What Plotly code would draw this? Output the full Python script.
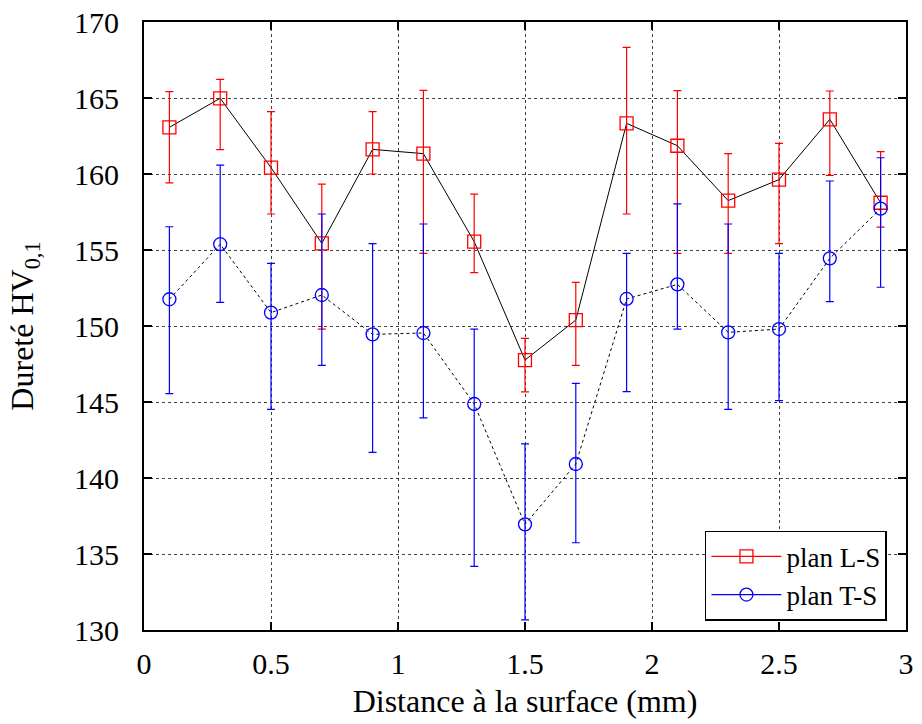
import plotly.graph_objects as go

distance = [0.1, 0.3, 0.5, 0.7, 0.9, 1.1, 1.3, 1.5, 1.7, 1.9, 2.1, 2.3, 2.5, 2.7, 2.9]

ls_mean = [163.07, 164.98, 160.42, 155.44, 161.62, 161.34, 155.55, 147.76, 150.39, 163.33, 161.86, 158.25, 159.63, 163.60, 158.11]
ls_high = [165.42, 166.23, 164.10, 159.34, 164.10, 165.50, 158.68, 149.19, 152.87, 168.33, 165.48, 161.34, 162.02, 165.46, 161.47]
ls_low = [159.41, 161.60, 157.37, 149.80, 160.00, 154.78, 153.51, 145.66, 147.41, 157.37, 154.78, 154.78, 155.42, 159.91, 156.51]

ts_mean = [151.76, 155.38, 150.88, 152.04, 149.45, 149.54, 144.87, 136.95, 140.92, 151.78, 152.74, 149.58, 149.80, 154.45, 157.72]
ts_high = [156.53, 160.59, 154.12, 157.37, 155.42, 156.71, 149.80, 142.24, 146.23, 154.78, 158.03, 156.71, 154.78, 159.54, 161.07]
ts_low = [145.55, 151.56, 144.52, 147.41, 141.69, 143.95, 134.19, 130.66, 135.74, 145.68, 149.80, 144.52, 145.09, 151.60, 152.55]

x_ticks = [0, 0.5, 1, 1.5, 2, 2.5, 3]
x_ticklabels = ["0", "0.5", "1", "1.5", "2", "2.5", "3"]
y_ticks = [130, 135, 140, 145, 150, 155, 160, 165, 170]

series_names = ["plan L-S", "plan T-S"]

RED = "rgb(255,0,0)"
BLUE = "rgb(0,0,255)"
FONT = "Liberation Serif"
FS = 30

fig = go.Figure()

def add_series(mean, high, low, color, symbol, dash, name):
    plus = [h - m for h, m in zip(high, mean)]
    minus = [m - l for m, l in zip(mean, low)]
    # black connecting line
    fig.add_trace(go.Scatter(
        x=distance, y=mean, mode="lines",
        line=dict(color="black", width=1, dash=dash),
        showlegend=False, hoverinfo="skip"))
    # markers with error bars
    fig.add_trace(go.Scatter(
        x=distance, y=mean, mode="markers",
        marker=dict(symbol=symbol, size=13, color=color,
                    line=dict(color=color, width=1.3)),
        error_y=dict(type="data", symmetric=False, array=plus, arrayminus=minus,
                     color=color, thickness=1.2, width=4),
        showlegend=False, name=name))
    # legend entry
    fig.add_trace(go.Scatter(
        x=[None], y=[None], mode="lines+markers", name=name,
        marker=dict(symbol=symbol, size=13, color=color,
                    line=dict(color=color, width=1.3)),
        line=dict(color=color, width=1.2)))

add_series(ls_mean, ls_high, ls_low, RED, "square-open", "solid", series_names[0])
add_series(ts_mean, ts_high, ts_low, BLUE, "circle-open", "dot", series_names[1])

axis_common = dict(
    showline=True, linecolor="black", linewidth=2, mirror="ticks",
    ticks="inside", ticklen=8, tickwidth=1.5, tickcolor="black",
    showgrid=True, gridcolor="rgba(0,0,0,0.75)", griddash="dot", gridwidth=1,
    zeroline=False, automargin=False, ticklabeloverflow="allow",
    tickfont=dict(family=FONT, size=FS, color="black"),
)

fig.update_xaxes(range=[0, 3], tickvals=x_ticks, ticktext=x_ticklabels,
                 title=dict(text="Distance à la surface (mm)",
                            font=dict(family=FONT, size=32, color="black"),
                            standoff=11),
                 ticklabelstandoff=6, **axis_common)
fig.update_yaxes(range=[130, 170], tickvals=y_ticks,
                 title=dict(text="Dureté HV<sub>0,1</sub>",
                            font=dict(family=FONT, size=32, color="black"),
                            standoff=31),
                 ticklabelstandoff=17, **axis_common)

fig.update_layout(
    width=922, height=724,
    margin=dict(l=144, r=16, t=22, b=94),
    paper_bgcolor="white", plot_bgcolor="white",
    font=dict(family=FONT, size=FS, color="black"),
    legend=dict(x=0.975, y=0.015, xanchor="right", yanchor="bottom",
                bgcolor="white", bordercolor="black", borderwidth=1.5,
                font=dict(family=FONT, size=27, color="black"),
                tracegroupgap=0, itemwidth=70),
)

fig.write_html("out.html",
               config={"displayModeBar": False},
               post_script="document.body.style.margin='0';document.body.style.overflow='hidden';")
